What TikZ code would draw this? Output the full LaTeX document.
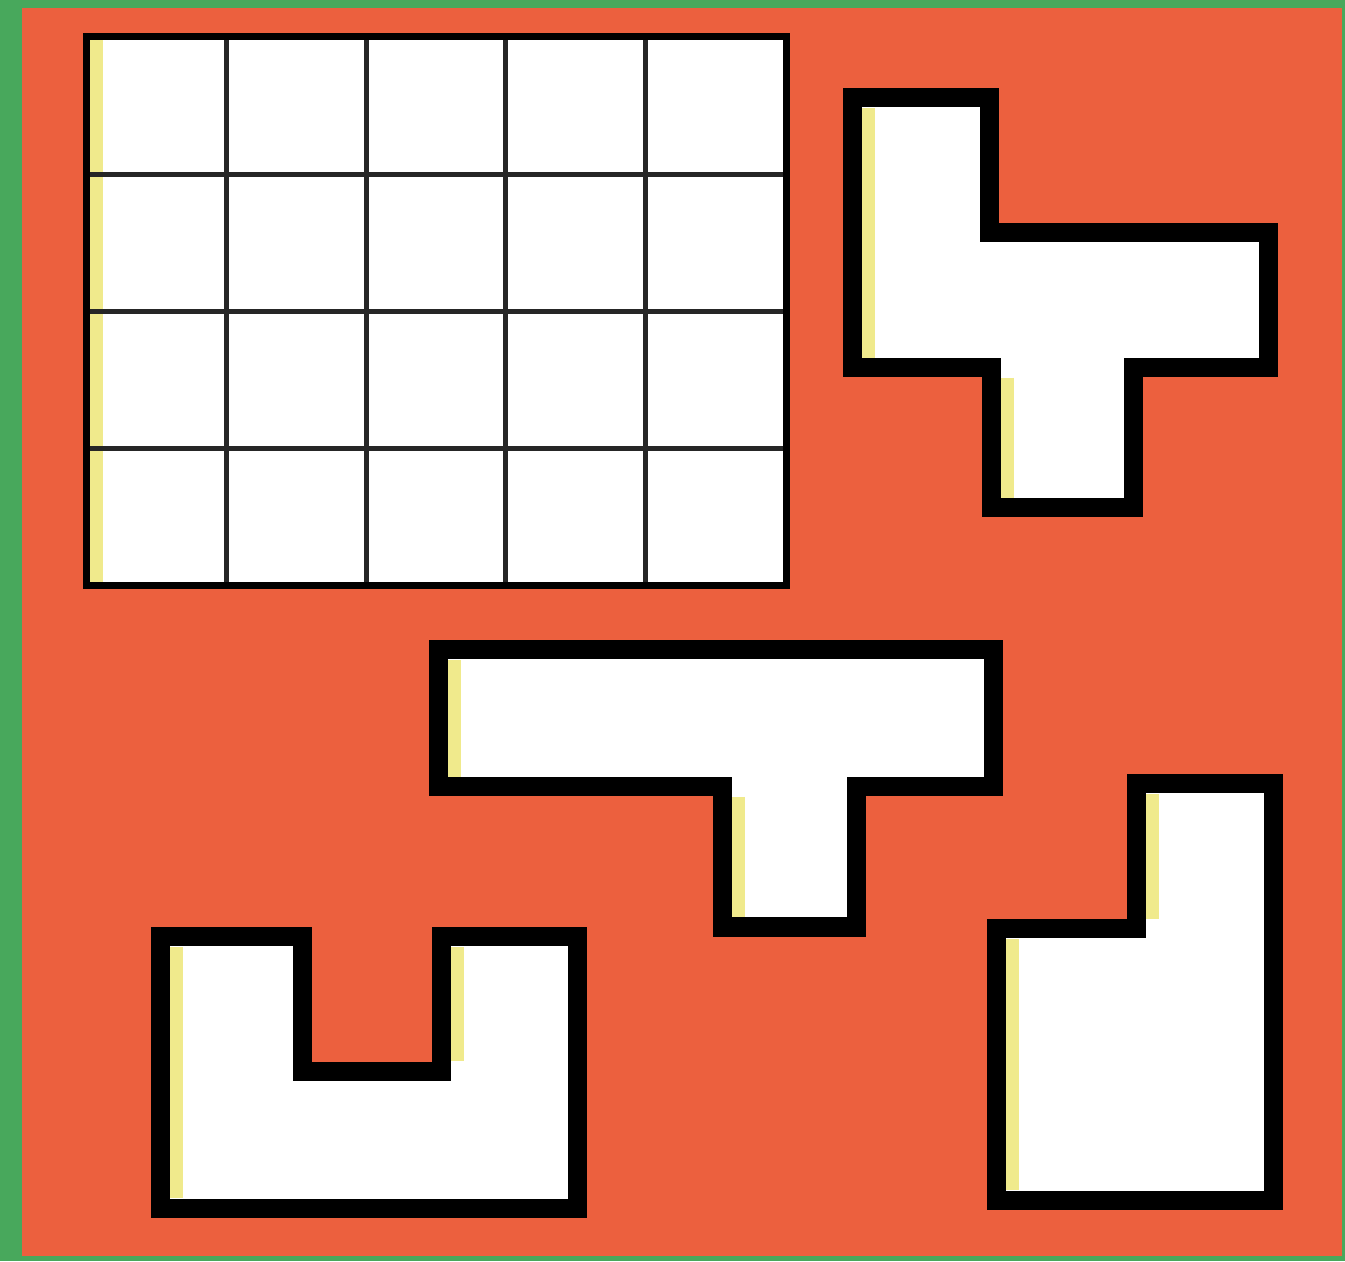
\documentclass[tikz,border=0pt]{standalone}
\usepackage{tikz,tkz-euclide}
\usetikzlibrary{calc}
\definecolor{felt}{RGB}{72,168,92}
\definecolor{board}{RGB}{236,96,62}
\definecolor{cream}{RGB}{240,234,140}

\begin{document}
\begin{tikzpicture}[line join=miter,
	piece/.style={draw=black, line width=1.9mm, line join=miter, line cap=rect},
	frame/.style={draw=black, line width=0.7mm, line join=miter},
	cell line/.style={black!85, line width=0.5mm},
	pieceshade/.style={draw=cream, line width=1.3mm, shorten <=1mm, shorten >=1mm, transform canvas={xshift=1.6mm}},
	gridshade/.style={draw=cream, line width=1.3mm, transform canvas={xshift=1mm}}]
	\useasboundingbox (0,0) rectangle (13.45,12.61);
	\fill[felt] (0,0) rectangle (13.45,12.61);
	\fill[board] (0.22,0.05) rectangle (13.42,12.53);
	% board of 5 x 4 squares
	\tkzDefPoints{0.86/12.24/G1, 7.86/12.24/G2, 7.86/6.75/G3, 0.86/6.75/G4}
	\fill[white] (G1) rectangle (G3);
	\draw[gridshade] (G1) -- (G4);
	\foreach \i in {1,...,4}
		\draw[cell line] ($(G1)!\i/5!(G2)$) -- ($(G4)!\i/5!(G3)$);
	\foreach \j in {1,2,3}
		\draw[cell line] ($(G1)!\j/4!(G4)$) -- ($(G2)!\j/4!(G3)$);
	\tkzDrawPolygon[frame](G1,G2,G3,G4)
	% the four pieces
	\tkzDefPoints{8.52/11.63/F1, 9.89/11.63/F2, 9.89/10.28/F3, 12.68/10.28/F4, 12.68/8.93/F5,
		11.33/8.93/F6, 11.33/7.53/F7, 9.91/7.53/F8, 9.91/8.93/F9, 8.52/8.93/F10}
	\tkzDefPoints{4.38/6.11/T1, 9.93/6.11/T2, 9.93/4.74/T3, 8.56/4.74/T4,
		8.56/3.34/T5, 7.22/3.34/T6, 7.22/4.74/T7, 4.38/4.74/T8}
	\tkzDefPoints{1.60/3.24/U1, 3.02/3.24/U2, 3.02/1.90/U3, 4.41/1.90/U4,
		4.41/3.24/U5, 5.77/3.24/U6, 5.77/0.53/U7, 1.60/0.53/U8}
	\tkzDefPoints{11.36/4.77/P1, 12.73/4.77/P2, 12.73/0.61/P3,
		9.96/0.61/P4, 9.96/3.32/P5, 11.36/3.32/P6}
	\fill[white] (F1)--(F2)--(F3)--(F4)--(F5)--(F6)--(F7)--(F8)--(F9)--(F10)--cycle;
	\fill[white] (T1)--(T2)--(T3)--(T4)--(T5)--(T6)--(T7)--(T8)--cycle;
	\fill[white] (U1)--(U2)--(U3)--(U4)--(U5)--(U6)--(U7)--(U8)--cycle;
	\fill[white] (P1)--(P2)--(P3)--(P4)--(P5)--(P6)--cycle;
	\draw[pieceshade] (F1) -- (F10);
	\draw[pieceshade] (F9) -- (F8);
	\draw[pieceshade] (T1) -- (T8);
	\draw[pieceshade] (T7) -- (T6);
	\draw[pieceshade] (U1) -- (U8);
	\draw[pieceshade] (U5) -- (U4);
	\draw[pieceshade] (P1) -- (P6);
	\draw[pieceshade] (P5) -- (P4);
	\tkzDrawPolygon[piece](F1,F2,F3,F4,F5,F6,F7,F8,F9,F10)
	\tkzDrawPolygon[piece](T1,T2,T3,T4,T5,T6,T7,T8)
	\tkzDrawPolygon[piece](U1,U2,U3,U4,U5,U6,U7,U8)
	\tkzDrawPolygon[piece](P1,P2,P3,P4,P5,P6)
\end{tikzpicture}
\end{document}
